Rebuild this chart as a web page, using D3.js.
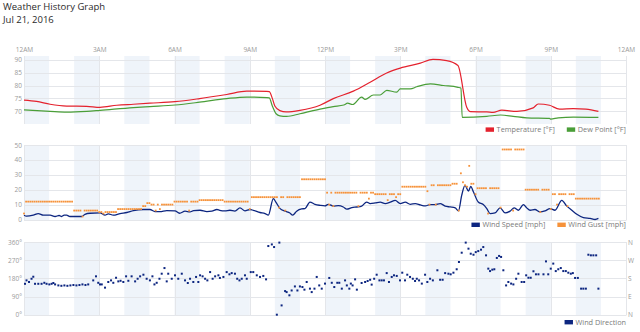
<!DOCTYPE html>
<html><head><meta charset="utf-8">
<script src="https://cdn.jsdelivr.net/npm/d3@7"></script>
<style>
body{margin:0;background:#fff;}
svg{display:block;font-family:"Open Sans",sans-serif;}
</style></head><body>
<svg id="c" width="640" height="332"></svg>
<script>
// ---------- data ----------
const hourTicks=[0,3,6,9,12,15,18,21,24];
const hourLabels=["12AM","3AM","6AM","9AM","12PM","3PM","6PM","9PM","12AM"];
const tempTicks=[70,75,80,85,90];
const windTicks=[0,10,20,30,40,50];
const dirTicks=[0,90,180,270,360];
const dirLabels=["0°","90°","180°","270°","360°"];
const compassLabels=["N","E","S","W","N"];

const tempTimes=[0,0.5,1.04,1.7,2.5,3.03,3.7,4.36,5.02,6.02,7.0,8.08,8.88,9.68,9.78,9.9,10.0,10.2,10.45,11.0,11.8,12.33,13.13,13.8,14.46,15.0,15.8,16.3,16.85,17.3,17.65,17.8,18.45,18.7,19.05,19.65,20.3,20.5,20.95,21.35,21.9,22.4,22.9];
const tempValues=[74.3,73.8,72.7,72.0,71.9,71.5,72.3,72.7,73.1,73.7,74.9,76.5,77.8,77.7,77.6,75.0,72.0,70.2,69.7,70.3,72.3,74.9,77.8,81.3,84.9,86.8,88.7,90.2,89.7,87.8,71.5,69.8,69.7,69.5,70.4,69.9,71.3,72.8,72.3,70.8,71.0,70.8,69.9];

const dewTimes=[0,1.04,1.7,2.5,3.03,4.36,5.02,6.02,7.0,8.08,8.88,9.68,9.78,9.9,10.05,10.2,10.47,11.0,11.8,12.33,12.75,12.9,13.1,13.46,13.6,13.93,14.2,14.46,14.86,15.0,15.4,15.66,16.2,16.72,17.3,17.42,17.47,18.45,19.0,19.5,20.04,20.95,21.0,21.3,21.9,22.9];
const dewValues=[70.5,69.9,69.6,69.9,70.3,71.4,71.8,72.4,73.5,74.9,75.5,75.3,75.2,72.0,69.0,68.2,68.0,69.0,70.8,71.8,72.4,73.1,72.6,75.5,74.6,76.3,76.3,78.1,77.4,78.7,78.7,79.5,80.6,80.0,79.3,79.0,67.6,68.0,68.5,68.0,67.4,67.2,66.9,67.4,67.7,67.6];

const speedTimes=[0,0.1,0.37,0.57,0.77,1.04,1.24,1.4,1.5,1.6,1.7,1.83,2.3,2.43,2.63,3.03,3.23,3.36,3.56,3.83,4.1,4.36,4.76,5.02,5.22,5.42,5.69,6.02,6.2,6.42,6.62,6.76,7.02,7.29,7.49,7.69,7.8,8.01,8.21,8.41,8.61,8.81,9.01,9.14,9.41,9.61,9.74,9.94,10.04,10.21,10.41,10.6,10.71,10.87,11.07,11.2,11.4,11.6,11.8,12.0,12.13,12.33,12.53,12.73,12.87,13.07,13.27,13.46,13.66,13.8,14.0,14.2,14.4,14.6,14.8,15.0,15.2,15.4,15.6,15.8,16.0,16.19,16.39,16.59,16.79,16.99,17.19,17.32,17.45,17.58,17.72,17.81,17.92,18.11,18.31,18.45,18.58,18.78,18.98,19.18,19.38,19.54,19.71,19.91,20.04,20.18,20.37,20.57,20.77,20.97,21.17,21.44,21.64,21.84,22.04,22.3,22.57,22.77,22.9];
const speedValues=[2.9,2.2,2.9,4.0,2.9,2.9,2.0,2.7,2.0,2.9,2.9,2.0,2.0,3.5,4.2,4.4,2.9,3.8,2.9,4.0,4.7,6.0,6.7,6.7,5.3,5.3,6.0,5.8,4.2,5.6,5.1,6.0,6.2,5.3,5.6,6.7,6.2,5.8,6.2,5.6,7.8,5.8,6.7,6.2,4.7,4.0,2.9,14.0,11.7,7.3,5.6,4.4,2.9,5.6,7.1,7.3,11.7,10.2,9.5,9.1,10.2,9.0,9.3,8.4,6.9,8.0,8.4,9.0,11.7,10.7,11.1,11.7,10.7,11.6,12.9,10.7,11.6,10.2,10.7,9.8,9.1,10.0,10.0,10.7,9.0,8.4,7.8,5.8,16.2,22.9,19.1,22.2,18.4,11.7,10.0,7.3,4.0,4.4,7.8,4.4,5.6,7.8,6.2,10.0,7.8,6.2,6.7,5.1,5.8,7.3,6.2,12.9,9.0,6.2,3.5,1.3,0.7,0.0,0.7];

// gusts every 5 minutes from 0:00 to 22:55 (one row per hour)
const gustValues=[
 4,12,12,12,12,12,12,12,12,12,12,12,
 12,12,12,12,12,12,12,12,12,12,12,12,
 6,6,6,6,2,6,6,6,6,6,6,6,
 5,5,4,5,5,5,5,5,5,7,7,7,
 7,7,7,7,7,7,7,7,7,9,9,11,
 11,10,10,6,10,7,10,10,10,10,10,10,
 12,12,12,12,12,12,12,6,12,12,12,12,
 13,13,13,13,13,13,13,13,13,13,13,13,
 12,12,12,12,12,12,12,12,12,12,12,12,
 7,15,15,15,15,15,15,15,15,15,15,15,
 15,15,8,15,15,6,15,15,15,15,15,15,
 15,27,27,27,27,27,27,27,27,27,27,27,
 27,18,10,18,9,18,18,18,18,18,18,18,
 18,18,18,18,9,18,18,18,18,14,18,18,
 17,17,17,17,17,17,13,17,17,17,15,17,
 17,22,22,22,22,22,22,22,22,22,22,22,
 22,19,10,23,23,10,23,23,23,23,23,23,
 23,24,24,24,6,31,25,23,22,36,24,24,
 17,21,21,21,21,21,4,21,21,21,21,21,
 8,47,47,47,47,47,6,47,47,47,47,47,
 20,20,20,20,20,20,20,5,20,20,20,20,
 7,17,17,10,17,17,17,17,9,17,17,17,
 14,14,14,14,14,14,14,14,14,14,14,14];

const dirTimes=[0.04,0.1,0.2,0.3,0.37,0.44,0.57,0.7,0.81,0.9,
1.01,1.1,1.17,1.24,1.37,1.49,1.61,1.73,1.85,1.97,
2.09,2.21,2.33,2.45,2.56,2.76,2.87,2.96,3.03,3.1,
3.23,3.36,3.47,3.56,3.67,3.76,3.85,3.96,4.07,4.16,
4.29,4.43,4.53,4.63,4.76,4.89,5.02,5.12,5.2,5.29,
5.4,5.49,5.6,5.69,5.75,5.89,6.02,6.15,6.29,6.42,
6.53,6.62,6.75,6.86,6.95,7.02,7.12,7.22,7.31,7.42,
7.52,7.62,7.75,7.81,7.95,8.08,8.19,8.28,8.41,8.5,
8.59,8.68,8.81,8.88,9.04,9.14,9.28,9.41,9.54,9.65,
9.74,9.88,9.97,10.08,10.18,10.27,10.41,10.47,10.58,10.67,
10.8,10.9,11.0,11.1,11.18,11.27,11.4,11.47,11.58,11.67,
11.77,11.87,12.0,12.17,12.27,12.37,12.49,12.57,12.67,12.8,
12.87,12.97,13.03,13.1,13.2,13.27,13.46,13.6,13.7,13.8,
13.86,13.96,14.06,14.17,14.26,14.35,14.46,14.55,14.66,14.75,
14.86,14.99,15.08,15.19,15.28,15.39,15.5,15.59,15.66,15.75,
15.86,15.99,16.08,16.19,16.3,16.48,16.59,16.69,16.79,16.92,
17.01,17.12,17.25,17.34,17.45,17.61,17.72,17.81,17.92,18.01,
18.11,18.22,18.31,18.42,18.51,18.58,18.67,18.75,18.85,18.94,
19.02,19.11,19.22,19.31,19.42,19.51,19.62,19.71,19.84,19.94,
20.02,20.11,20.2,20.31,20.41,20.51,20.71,20.81,20.9,21.0,
21.1,21.2,21.3,21.4,21.5,21.6,21.7,21.8,21.88,21.97,
22.08,22.21,22.3,22.4,22.5,22.6,22.7,22.81,22.9];
const dirValues=[153,170,162,178,188,153,153,153,158,153,
150,153,157,150,145,143,145,143,145,147,
145,147,150,147,150,170,190,158,150,150,
134,162,170,158,183,165,168,162,190,168,
190,165,178,190,198,178,170,190,150,158,
178,203,231,165,203,178,195,178,203,170,
157,178,162,187,162,195,190,178,170,211,
178,190,195,182,187,211,200,206,203,178,
170,178,195,178,211,211,195,187,192,175,
340,348,335,0,357,46,117,112,96,120,
140,120,140,137,124,162,129,112,129,187,
145,129,154,182,158,137,158,158,129,170,
145,129,154,145,175,124,157,162,167,173,
149,178,198,170,170,170,206,162,187,195,
192,170,208,170,198,187,178,167,178,170,
154,198,162,178,170,220,173,173,206,203,
200,208,225,261,307,357,327,302,297,310,
315,322,335,294,228,216,223,225,281,291,
286,220,145,162,154,150,178,203,162,162,
195,183,183,215,200,200,200,264,200,228,
253,216,225,231,216,216,208,203,206,182,
182,129,129,129,297,294,294,294,129];

// ---------- drawing ----------
const svg=d3.select("#c");
const W0=24, W1=626;
const x=d3.scaleLinear().domain([0,24]).range([W0,W1]);
const yT=d3.scaleLinear().domain([65,91.5]).range([124,56]);
const yW=d3.scaleLinear().domain([0,50]).range([219.5,145]);
const yD=d3.scaleLinear().domain([0,360]).range([314.7,242]);
const panels=[{top:56,bottom:124,y:yT,ticks:tempTicks},{top:145,bottom:220.5,y:yW,ticks:windTicks},{top:242,bottom:315.5,y:yD,ticks:dirTicks}];

const C={band:"#eff4fa",grid:"#e4e6ea",label:"#9a9a9a",red:"#e4222e",green:"#4a9e38",navy:"#0d2680",orange:"#f6923a",title:"#2a2a2a"};

// title
svg.append("text").attr("x",3).attr("y",10.2).attr("font-size",9.5).attr("fill",C.title).text("Weather History Graph");
svg.append("text").attr("x",3).attr("y",23).attr("font-size",9.5).attr("fill",C.title).text("Jul 21, 2016");

panels.forEach(p=>{
  const g=svg.append("g");
  g.selectAll("rect.band").data(d3.range(0,24,2)).join("rect")
    .attr("x",d=>x(d)).attr("width",d=>x(d+1)-x(d)).attr("y",p.top).attr("height",p.bottom-p.top).attr("fill",C.band);
  g.selectAll("line.v").data(hourTicks).join("line")
    .attr("x1",d=>Math.round(x(d))+0.5).attr("x2",d=>Math.round(x(d))+0.5).attr("y1",p.top).attr("y2",p.bottom)
    .attr("stroke",C.grid).attr("stroke-width",1);
  g.selectAll("line.h").data(p.ticks).join("line")
    .attr("x1",W0).attr("x2",W1).attr("y1",d=>Math.round(p.y(d))+0.5).attr("y2",d=>Math.round(p.y(d))+0.5)
    .attr("stroke",C.grid).attr("stroke-width",1);
});

function styleAxis(sel,size){
  sel.select(".domain").remove();
  sel.selectAll("text").attr("fill",C.label).attr("font-size",size).attr("font-family","'Open Sans',sans-serif");
}
// x axis on top
const hx=d3.axisTop(x).tickValues(hourTicks).tickSize(0).tickPadding(4).tickFormat((d,i)=>hourLabels[i]);
svg.append("g").attr("transform","translate(0,56)").call(hx).call(s=>styleAxis(s,6.5));
// y axes
svg.append("g").attr("transform",`translate(${W0},0)`).call(d3.axisLeft(yT).tickValues(tempTicks).tickSize(0).tickPadding(2)).call(s=>styleAxis(s,6.5));
svg.append("g").attr("transform",`translate(${W0},0)`).call(d3.axisLeft(yW).tickValues(windTicks).tickSize(0).tickPadding(2)).call(s=>styleAxis(s,6.5));
svg.append("g").attr("transform",`translate(${W0},0)`).call(d3.axisLeft(yD).tickValues(dirTicks).tickSize(0).tickPadding(2).tickFormat((d,i)=>dirLabels[i])).call(s=>styleAxis(s,6.5));
svg.append("g").attr("transform",`translate(${W1},0)`).call(d3.axisRight(yD).tickValues(dirTicks).tickSize(0).tickPadding(2).tickFormat((d,i)=>compassLabels[i])).call(s=>styleAxis(s,6.5));

// temperature & dew point
const lineT=d3.line().x(d=>x(d[0])).y(d=>yT(d[1])).curve(d3.curveMonotoneX);
svg.append("path").attr("d",lineT(d3.zip(dewTimes,dewValues))).attr("fill","none").attr("stroke",C.green).attr("stroke-width",1.2);
svg.append("path").attr("d",lineT(d3.zip(tempTimes,tempValues))).attr("fill","none").attr("stroke",C.red).attr("stroke-width",1.2);

// wind
const lineW=d3.line().x(d=>x(d[0])).y(d=>yW(d[1])).curve(d3.curveMonotoneX);
svg.append("path").attr("d",lineW(d3.zip(speedTimes,speedValues))).attr("fill","none").attr("stroke",C.navy).attr("stroke-width",1.3);
svg.append("g").selectAll("rect").data(gustValues).join("rect")
  .attr("x",(d,i)=>x(i/12)-0.9).attr("y",d=>yW(d)-0.9).attr("width",1.8).attr("height",1.8).attr("fill",C.orange);

// direction
svg.append("g").selectAll("rect").data(d3.zip(dirTimes,dirValues)).join("rect")
  .attr("x",d=>x(d[0])-1).attr("y",d=>yD(d[1])-1).attr("width",2).attr("height",2).attr("fill",C.navy);

// legends
function legend(items,yc){
  let right=W1;
  items.slice().reverse().forEach(it=>{
    const t=svg.append("text").attr("x",right).attr("y",yc).attr("dy","0.35em").attr("text-anchor","end")
      .attr("font-size",7.3).attr("fill","#7a7a7a").text(it.label);
    const w=t.node().getComputedTextLength();
    const sx=right-w-2.6-8.4;
    svg.append("rect").attr("x",sx).attr("y",yc-2.2).attr("width",8.4).attr("height",4.4).attr("fill",it.color);
    right=sx-12;
  });
}
legend([{label:"Temperature [°F]",color:C.red},{label:"Dew Point [°F]",color:C.green}],129.6);
legend([{label:"Wind Speed [mph]",color:C.navy},{label:"Wind Gust [mph]",color:C.orange}],224.8);
legend([{label:"Wind Direction",color:C.navy}],322.2);
</script></body></html>
